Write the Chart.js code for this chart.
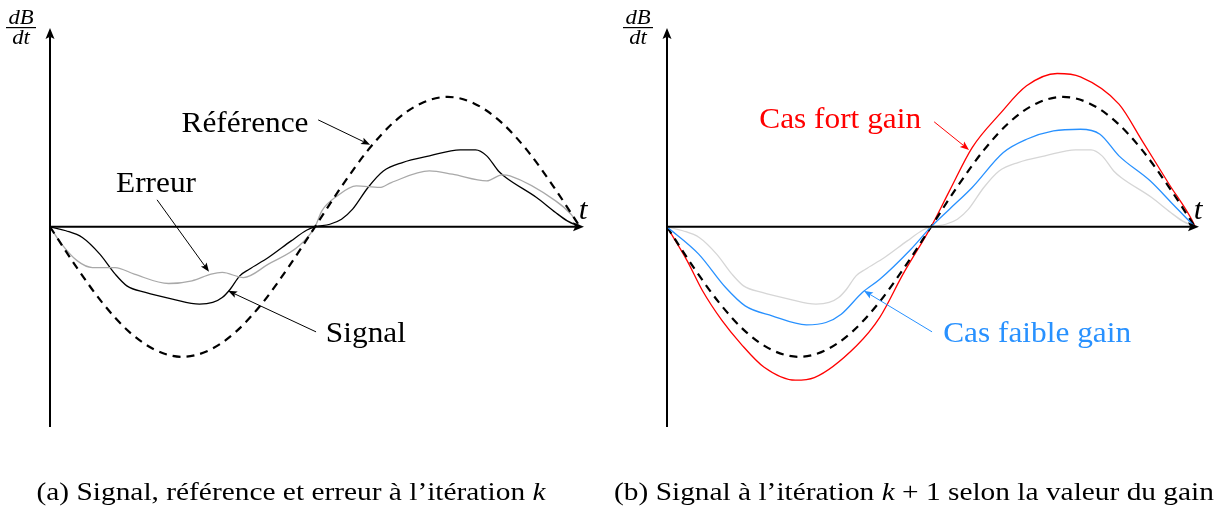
<!DOCTYPE html>
<html>
<head>
<meta charset="utf-8">
<script src="https://cdn.jsdelivr.net/npm/chart.js@4/dist/chart.umd.min.js"></script>
<style>
  body { margin: 0; background: #fff; }
  #wrap { position: relative; width: 1216px; height: 511px; overflow: hidden; }
  #wrap canvas { position: absolute; top: 0; }
  .cap { position: absolute; top: 477px; font: 26px "Liberation Serif", serif; white-space: nowrap;
         transform: translateX(-50%) scaleX(1.13); color: #000; }
</style>
</head>
<body>
<div id="wrap">
  <canvas id="left" width="608" height="511" style="left:0"></canvas>
  <canvas id="right" width="608" height="511" style="left:608px"></canvas>
  <div class="cap" style="left:291px">(a) Signal, référence et erreur à l’itération <i>k</i></div>
  <div class="cap" style="left:914px">(b) Signal à l’itération <i>k</i> + 1 selon la valeur du gain</div>
</div>
<script>
// reference (dashed)
const refT = [0, 0.05, 0.1, 0.15, 0.2, 0.25, 0.3, 0.35, 0.4, 0.45, 0.5, 0.55, 0.6, 0.65, 0.7, 0.75, 0.8, 0.85, 0.9, 0.95, 1];
const refV = [0, -0.31, -0.59, -0.81, -0.95, -1, -0.95, -0.81, -0.59, -0.31, 0, 0.31, 0.59, 0.81, 0.95, 1, 0.95, 0.81, 0.59, 0.31, 0];

// signal at iteration k (black on the left, light grey on the right)
const signalT = [0, 0.03, 0.061, 0.094, 0.123, 0.145, 0.18, 0.231, 0.282, 0.307, 0.325, 0.34, 0.358, 0.376, 0.412, 0.455, 0.484, 0.5,
  0.528, 0.55, 0.571, 0.6, 0.629, 0.665, 0.716, 0.774, 0.803, 0.824, 0.846, 0.86, 0.918, 0.954, 0.976, 1];
const signalV = [0, -0.03, -0.082, -0.21, -0.364, -0.454, -0.505, -0.556, -0.595, -0.582, -0.544, -0.48, -0.377, -0.326, -0.236, -0.108, -0.026, 0,
  0.02, 0.059, 0.136, 0.303, 0.43, 0.495, 0.546, 0.592, 0.592, 0.546, 0.43, 0.38, 0.226, 0.11, 0.046, 0];

// erreur (grey)
const erreurT = [0, 0.022, 0.051, 0.08, 0.123, 0.159, 0.224, 0.268, 0.304, 0.325, 0.365, 0.412, 0.47, 0.5,
  0.513, 0.542, 0.578, 0.622, 0.644, 0.716, 0.759, 0.824, 0.853, 0.868, 0.954, 0.983, 1];
const erreurV = [0, -0.133, -0.26, -0.313, -0.313, -0.364, -0.436, -0.415, -0.364, -0.351, -0.39, -0.287, -0.146, 0,
  0.123, 0.238, 0.315, 0.303, 0.341, 0.43, 0.405, 0.354, 0.4, 0.392, 0.2, 0.097, 0];

// cas faible gain (blue)
const faibleT = [0, 0.06, 0.111, 0.148, 0.199, 0.264, 0.301, 0.33, 0.37, 0.403, 0.462, 0.5,
  0.535, 0.578, 0.637, 0.681, 0.732, 0.783, 0.82, 0.856, 0.915, 0.958, 0.995, 1];
const faibleV = [0, -0.21, -0.467, -0.608, -0.685, -0.754, -0.736, -0.672, -0.505, -0.403, -0.172, 0,
  0.136, 0.303, 0.572, 0.674, 0.738, 0.751, 0.713, 0.546, 0.354, 0.174, 0.02, 0];

// cas fort gain (red)
const fortT = [0, 0.038, 0.067, 0.104, 0.14, 0.184, 0.243, 0.279, 0.359, 0.403, 0.447, 0.5,
  0.535, 0.578, 0.63, 0.681, 0.739, 0.783, 0.856, 0.9, 0.951, 0.995, 1];
const fortV = [0, -0.26, -0.49, -0.72, -0.9, -1.08, -1.18, -1.16, -0.915, -0.697, -0.364, 0,
  0.277, 0.61, 0.867, 1.085, 1.18, 1.154, 0.944, 0.662, 0.328, 0.046, 0];

const BLUE = 'rgb(40, 145, 255)';
const RED = 'rgb(255, 0, 0)';
const STRETCH = 1.08;

const pts = (ts, vs) => ts.map((t, i) => ({ x: t, y: vs[i] }));

const line = (data, color, width, dash) => ({
  data: data,
  borderColor: color,
  borderWidth: width,
  borderDash: dash || [],
  pointRadius: 0,
  cubicInterpolationMode: 'monotone',
  fill: false,
});

function text(ctx, str, x, y, size, color, italic) {
  ctx.save();
  ctx.translate(x, y);
  ctx.scale(STRETCH, 1);
  ctx.font = (italic ? 'italic ' : '') + size + 'px "Liberation Serif", serif';
  ctx.fillStyle = color;
  ctx.textAlign = 'center';
  ctx.textBaseline = 'alphabetic';
  ctx.fillText(str, 0, 0);
  ctx.restore();
}

function arrow(ctx, x1, y1, x2, y2, color, width, len, half) {
  const a = Math.atan2(y2 - y1, x2 - x1);
  ctx.strokeStyle = color;
  ctx.fillStyle = color;
  ctx.lineWidth = width;
  ctx.setLineDash([]);
  ctx.beginPath();
  ctx.moveTo(x1, y1);
  ctx.lineTo(x2 - Math.cos(a) * len * 0.8, y2 - Math.sin(a) * len * 0.8);
  ctx.stroke();
  ctx.beginPath();
  ctx.moveTo(x2, y2);
  ctx.lineTo(x2 - Math.cos(a) * len + Math.sin(a) * half, y2 - Math.sin(a) * len - Math.cos(a) * half);
  ctx.lineTo(x2 - Math.cos(a) * len * 0.8, y2 - Math.sin(a) * len * 0.8);
  ctx.lineTo(x2 - Math.cos(a) * len - Math.sin(a) * half, y2 - Math.sin(a) * len + Math.cos(a) * half);
  ctx.closePath();
  ctx.fill();
}

// axes with arrows, dB/dt, t, and the labelled arrows
const sketch = {
  id: 'sketch',
  afterDatasetsDraw(chart, args, opts) {
    const { ctx, chartArea } = chart;
    const sx = chart.scales.x, sy = chart.scales.y;
    const px = (t) => sx.getPixelForValue(t);
    const py = (v) => sy.getPixelForValue(v);
    const x0 = px(0), y0 = py(0);
    ctx.save();
    arrow(ctx, x0, chartArea.bottom, x0, chartArea.top, '#000', 2, 11, 4.5);
    arrow(ctx, x0, y0, chartArea.right + 4, y0, '#000', 2, 11, 4.5);

    // dB/dt
    const fx = x0 - 29, fy = chartArea.top - 1;
    text(ctx, 'dB', fx, fy - 3, 21, '#000', true);
    ctx.fillStyle = '#000';
    ctx.fillRect(fx - 15, fy, 30, 1.2);
    text(ctx, 'dt', fx, fy + 17, 21, '#000', true);

    text(ctx, 't', chartArea.right + 3, y0 - 8, 29, '#000', true);

    (opts.notes || []).forEach((n) => {
      text(ctx, n.label, px(n.at[0]), py(n.at[1]) + 10, 29, n.color, false);
      arrow(ctx, px(n.from[0]), py(n.from[1]), px(n.to[0]), py(n.to[1]), n.color, 1, 9, 3.5);
    });
    ctx.restore();
  },
};

function makeChart(id, datasets, pad, notes) {
  return new Chart(document.getElementById(id), {
    type: 'line',
    data: { datasets: datasets },
    options: {
      responsive: false,
      animation: false,
      events: [],
      layout: { padding: pad },
      scales: {
        x: { type: 'linear', min: 0, max: 1, display: false },
        y: { min: -1.54, max: 1.53, display: false },
      },
      plugins: {
        legend: { display: false },
        tooltip: { enabled: false },
        sketch: { notes: notes },
      },
    },
    plugins: [sketch],
  });
}

makeChart('left', [
  line(pts(refT, refV), '#000', 2.2, [8, 6]),
  line(pts(erreurT, erreurV), '#a9a9a9', 1.3),
  line(pts(signalT, signalV), '#000', 1.3),
], { left: 50, right: 28, top: 28, bottom: 84 }, [
  { label: 'Référence', at: [0.368, 0.808], from: [0.506, 0.823], to: [0.604, 0.631], color: '#000' },
  { label: 'Erreur', at: [0.2, 0.346], from: [0.202, 0.208], to: [0.3, -0.346], color: '#000' },
  { label: 'Signal', at: [0.596, -0.808], from: [0.502, -0.808], to: [0.336, -0.492], color: '#000' },
]);

makeChart('right', [
  line(pts(signalT, signalV), '#d6d6d6', 1.3),
  line(pts(faibleT, faibleV), BLUE, 1.3),
  line(pts(refT, refV), '#000', 2.2, [8, 6]),
  line(pts(fortT, fortV), RED, 1.3),
], { left: 59, right: 21, top: 28, bottom: 84 }, [
  { label: 'Cas fort gain', at: [0.328, 0.838], from: [0.506, 0.808], to: [0.572, 0.592], color: RED },
  { label: 'Cas faible gain', at: [0.701, -0.808], from: [0.502, -0.808], to: [0.373, -0.492], color: BLUE },
]);
</script>
</body>
</html>
